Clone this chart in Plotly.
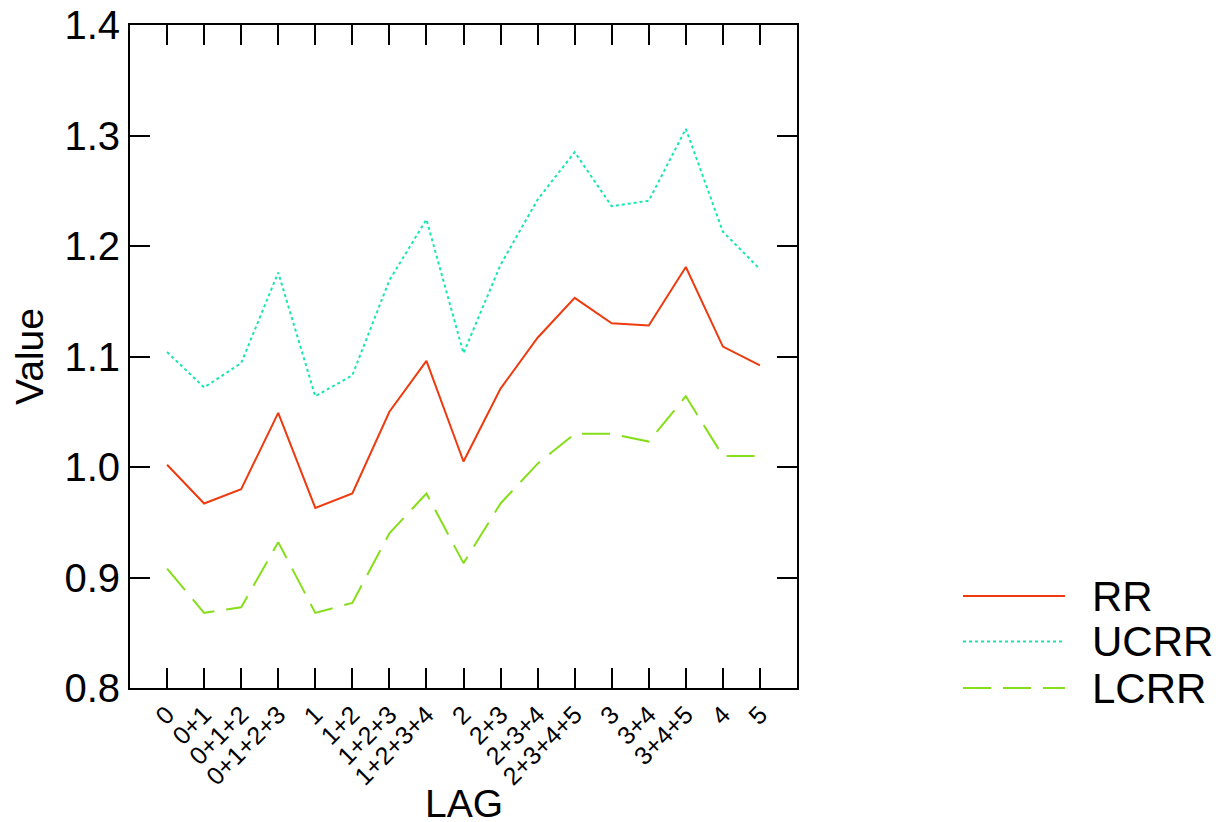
import plotly.graph_objects as go

lags = ["0", "0+1", "0+1+2", "0+1+2+3", "1", "1+2", "1+2+3", "1+2+3+4",
        "2", "2+3", "2+3+4", "2+3+4+5", "3", "3+4", "3+4+5", "4", "5"]
rr = [1.002, 0.967, 0.980, 1.049, 0.963, 0.976, 1.050, 1.096,
      1.005, 1.071, 1.117, 1.153, 1.130, 1.128, 1.181, 1.109, 1.092]
ucrr = [1.104, 1.072, 1.094, 1.176, 1.064, 1.083, 1.169, 1.224,
        1.103, 1.183, 1.242, 1.285, 1.236, 1.241, 1.306, 1.213, 1.179]
lcrr = [0.908, 0.868, 0.873, 0.932, 0.868, 0.877, 0.940, 0.976,
        0.913, 0.967, 1.003, 1.030, 1.030, 1.023, 1.064, 1.010, 1.010]

series_names = ["RR", "UCRR", "LCRR"]
series_vals = [rr, ucrr, lcrr]
colors = ["#EE3A0E", "#16E6B0", "#86DE1A"]
dashes = ["solid", "dot", "28px,12px"]

FONT = "Liberation Sans, Arial, Helvetica, sans-serif"

fig = go.Figure()
for name, vals, c, d in zip(series_names, series_vals, colors, dashes):
    fig.add_trace(go.Scatter(x=lags, y=vals, mode="lines", name=name,
                             line=dict(color=c, width=2, dash=d),
                             showlegend=False))

# page offset (body margin) compensation
OFF = 8
L, R, T, B = 130, 797, 25, 688
W, H = R - L, B - T
def px(x):
    return (x - L) / W
def py(y):
    return (B - y) / H

# Manual legend (long line samples)
legend_y = [596, 641.5, 688]
for name, c, d, yy in zip(series_names, colors, dashes, legend_y):
    fig.add_shape(type="line", xref="paper", yref="paper",
                  x0=px(963), x1=px(1065), y0=py(yy), y1=py(yy),
                  line=dict(color=c, width=2, dash=d))
    fig.add_annotation(xref="paper", yref="paper", x=px(1090), y=py(yy),
                       text=name, showarrow=False, xanchor="left",
                       yanchor="middle", font=dict(size=42, color="black", family=FONT))

# X axis title as annotation for exact placement
fig.add_annotation(xref="paper", yref="paper", x=px(463.5), y=py(803),
                   text="LAG", showarrow=False, xanchor="center", yanchor="middle",
                   font=dict(size=39, color="black", family=FONT))

axis_common = dict(showline=True, linecolor="black", linewidth=2, mirror="ticks",
                   ticks="inside", ticklen=20, tickwidth=2, tickcolor="black",
                   showgrid=False, zeroline=False, ticklabeloverflow="allow")

fig.update_xaxes(type="category", range=[-1, 17], tickangle=-45,
                 tickfont=dict(size=25, family=FONT, color="black"),
                 **axis_common)
fig.update_yaxes(range=[0.8, 1.4], dtick=0.1, tickformat=".1f",
                 tickfont=dict(size=40, family=FONT, color="black"),
                 title=dict(text="Value", font=dict(size=39, family=FONT, color="black"),
                            standoff=12),
                 **axis_common)

fig.update_layout(width=1220, height=822,
                  margin=dict(l=L - OFF, r=1220 - R + OFF, t=T - OFF, b=822 - B + OFF,
                              autoexpand=False),
                  plot_bgcolor="white", paper_bgcolor="white",
                  font=dict(family=FONT, color="black"))

fig.write_html("out.html")
